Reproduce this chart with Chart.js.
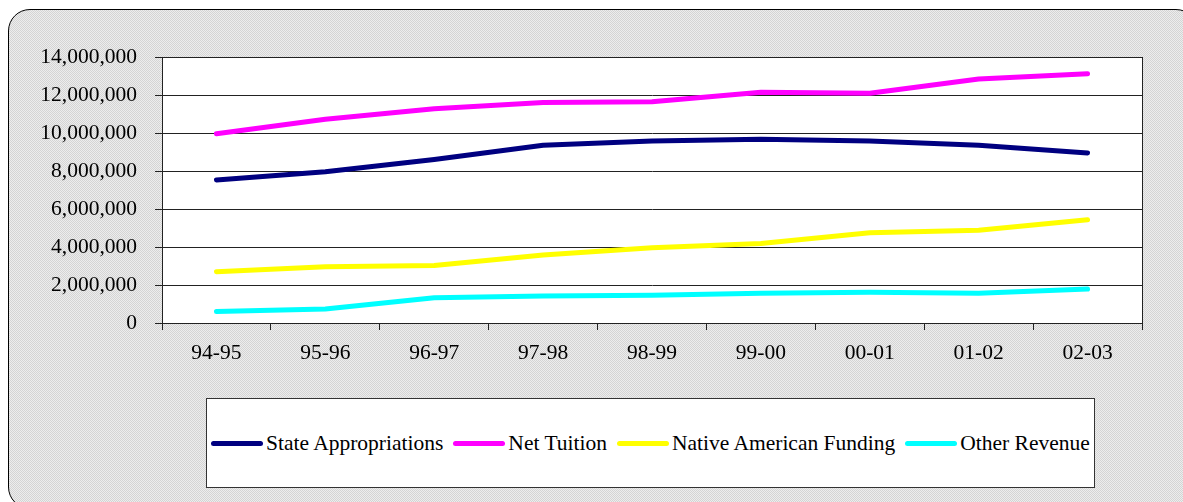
<!DOCTYPE html>
<html>
<head>
<meta charset="utf-8">
<script src="https://cdn.jsdelivr.net/npm/chart.js@4"></script>
<style>
  html, body { margin: 0; padding: 0; background: #fff; overflow: hidden; }
  #wrap { position: relative; width: 1183px; height: 502px; }
  #panel {
    position: absolute; left: 8px; top: 9px; width: 1190px; height: 500px;
    border: 1.5px solid #000; border-radius: 22px; box-sizing: border-box;
    background-color: #e2e2e2;
    background-image: repeating-conic-gradient(#d4d4d4 0 25%, #ededed 0 50%);
    background-size: 2px 2px;
  }
  #chart { position: absolute; left: 0; top: 0; }
  #legend {
    position: absolute; left: 206px; top: 398px; width: 889px; height: 90px;
    box-sizing: border-box; border: 1px solid #333; background: #fff;
    display: flex; align-items: center; padding-left: 4px;
    font-family: "Liberation Serif", Tinos, "Times New Roman", Times, "DejaVu Serif", serif;
    font-size: 21.5px; color: #000;
  }
  .item { display: flex; align-items: center; margin-right: 10px; white-space: nowrap; }
  .swatch { width: 52px; height: 5px; border-radius: 3px; margin-right: 3px; }
</style>
</head>
<body>
<div id="wrap">
  <div id="panel"></div>
  <canvas id="chart" width="1183" height="502"></canvas>
  <div id="legend"></div>
</div>
<script>
// data
const years = ["94-95", "95-96", "96-97", "97-98", "98-99", "99-00", "00-01", "01-02", "02-03"];
const stateApprop = [7530000, 7960000, 8610000, 9350000, 9580000, 9670000, 9580000, 9350000, 8950000];
const netTuition = [9960000, 10720000, 11280000, 11600000, 11650000, 12140000, 12090000, 12840000, 13120000];
const nativeAmerican = [2700000, 2960000, 3030000, 3580000, 3960000, 4190000, 4750000, 4880000, 5440000];
const otherRevenue = [600000, 740000, 1330000, 1420000, 1460000, 1560000, 1620000, 1560000, 1790000];
const yTicks = [0, 2000000, 4000000, 6000000, 8000000, 10000000, 12000000, 14000000];

const seriesNames = ["State Appropriations", "Net Tuition", "Native American Funding", "Other Revenue"];
const seriesColors = ["#000080", "#ff00ff", "#ffff00", "#00ffff"];
const seriesData = [stateApprop, netTuition, nativeAmerican, otherRevenue];

const fontFamily = '"Liberation Serif", Tinos, "Times New Roman", Times, "DejaVu Serif", serif';

// white plot area behind lines, frame on top
const plotBg = {
  id: 'plotBg',
  beforeDraw(chart) {
    const a = chart.chartArea, c = chart.ctx;
    c.save();
    c.fillStyle = '#fff';
    c.fillRect(a.left, a.top, a.right - a.left, a.bottom - a.top);
    c.restore();
  },
  afterDatasetsDraw(chart) {
    const a = chart.chartArea, c = chart.ctx;
    c.save();
    c.strokeStyle = '#222';
    c.lineWidth = 1;
    c.strokeRect(Math.round(a.left) + 0.5, Math.round(a.top) + 0.5, Math.round(a.right - a.left), Math.round(a.bottom - a.top));
    c.restore();
  }
};

function drawChart() {
  new Chart(document.getElementById('chart'), {
    type: 'line',
    data: {
      labels: years,
      datasets: seriesNames.map((name, i) => ({
        label: name,
        data: seriesData[i],
        borderColor: seriesColors[i],
        backgroundColor: seriesColors[i],
        borderWidth: 5,
        borderCapStyle: 'round',
        borderJoinStyle: 'round',
        pointRadius: 0,
        tension: 0
      }))
    },
    options: {
      responsive: false,
      animation: false,
      layout: { padding: { left: 0, top: 57, right: 41, bottom: 119 } },
      plugins: { legend: { display: false }, tooltip: { enabled: false } },
      scales: {
        x: {
          offset: true,
          grid: { offset: true, drawOnChartArea: false, drawTicks: true, tickLength: 7, color: '#222' },
          border: { color: '#222' },
          ticks: { color: '#000', font: { family: fontFamily, size: 21.5 }, padding: 10, maxRotation: 0 },
          afterFit(scale) { scale.height = 60; }
        },
        y: {
          min: 0, max: 14000000,
          afterBuildTicks(scale) { scale.ticks = yTicks.map(v => ({ value: v })); },
          grid: { color: '#222', tickLength: 7, lineWidth: 1 },
          border: { color: '#222' },
          ticks: {
            color: '#000', font: { family: fontFamily, size: 21.5 }, padding: 18,
            callback: v => v.toLocaleString('en-US')
          },
          afterFit(scale) { scale.width = 162; }
        }
      }
    },
    plugins: [plotBg]
  });
}

// legend box under the chart
const legend = document.getElementById('legend');
seriesNames.forEach((name, i) => {
  const item = document.createElement('div');
  item.className = 'item';
  const sw = document.createElement('span');
  sw.className = 'swatch';
  sw.style.background = seriesColors[i];
  const txt = document.createElement('span');
  txt.textContent = name;
  item.appendChild(sw);
  item.appendChild(txt);
  legend.appendChild(item);
});

if (document.fonts && document.fonts.load) {
  document.fonts.load('21px "Liberation Serif"').then(drawChart, drawChart);
} else {
  drawChart();
}
</script>
</body>
</html>
